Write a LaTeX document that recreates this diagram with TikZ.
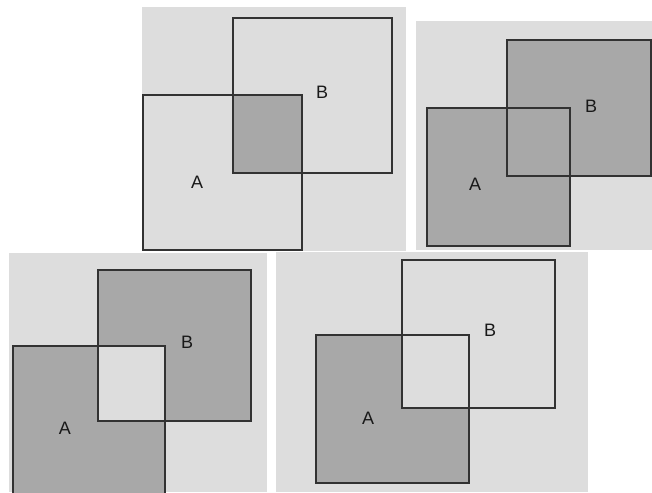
\documentclass[tikz,border=0pt]{standalone}
\usepackage{fontspec}
\setmainfont{Liberation Sans}
\definecolor{paper}{RGB}{221,221,221}
\definecolor{shade}{RGB}{168,168,168}
\definecolor{edge}{RGB}{50,50,50}
\tikzset{
  sheet/.style={fill=paper},
  setfill/.style={fill=shade},
  setedge/.style={draw=edge,line width=1.5pt},
  setlabel/.style={font=\fontsize{18}{20}\selectfont,text=black!90}
}
\begin{document}
\begin{tikzpicture}[x=1pt,y=-1pt]
  \useasboundingbox (0,0) rectangle (652,492);
  % intersection
  \fill[sheet] (142,7) rectangle (406,251);
  \fill[setfill] (233,95) rectangle (302,173);
  \draw[setedge] (143,95) rectangle (302,250);
  \draw[setedge] (233,18) rectangle (392,173);
  \node[setlabel] (a1) at (197,182) {A};
  \node[setlabel] (b1) at (322,92) {B};
  % union
  \fill[sheet] (416,21) rectangle (652,250);
  \fill[setfill] (427,108) rectangle (570,246);
  \fill[setfill] (507,40) rectangle (651,176);
  \draw[setedge] (427,108) rectangle (570,246);
  \draw[setedge] (507,40) rectangle (651,176);
  \node[setlabel] (a2) at (475,184) {A};
  \node[setlabel] (b2) at (591,106) {B};
  % symmetric difference
  \fill[sheet] (9,253) rectangle (267,492);
  \fill[setfill] (13,346) rectangle (165,495);
  \fill[setfill] (98,270) rectangle (251,421);
  \fill[sheet] (98,346) rectangle (165,421);
  \draw[setedge] (13,495) -- (13,346) -- (165,346) -- (165,495);
  \draw[setedge] (98,270) rectangle (251,421);
  \node[setlabel] (a3) at (65,428) {A};
  \node[setlabel] (b3) at (187,342) {B};
  % difference
  \fill[sheet] (276,252) rectangle (588,492);
  \fill[setfill] (316,335) rectangle (469,483);
  \fill[sheet] (402,335) rectangle (469,408);
  \draw[setedge] (316,335) rectangle (469,483);
  \draw[setedge] (402,260) rectangle (555,408);
  \node[setlabel] (a4) at (368,418) {A};
  \node[setlabel] (b4) at (490,330) {B};
\end{tikzpicture}
\end{document}
